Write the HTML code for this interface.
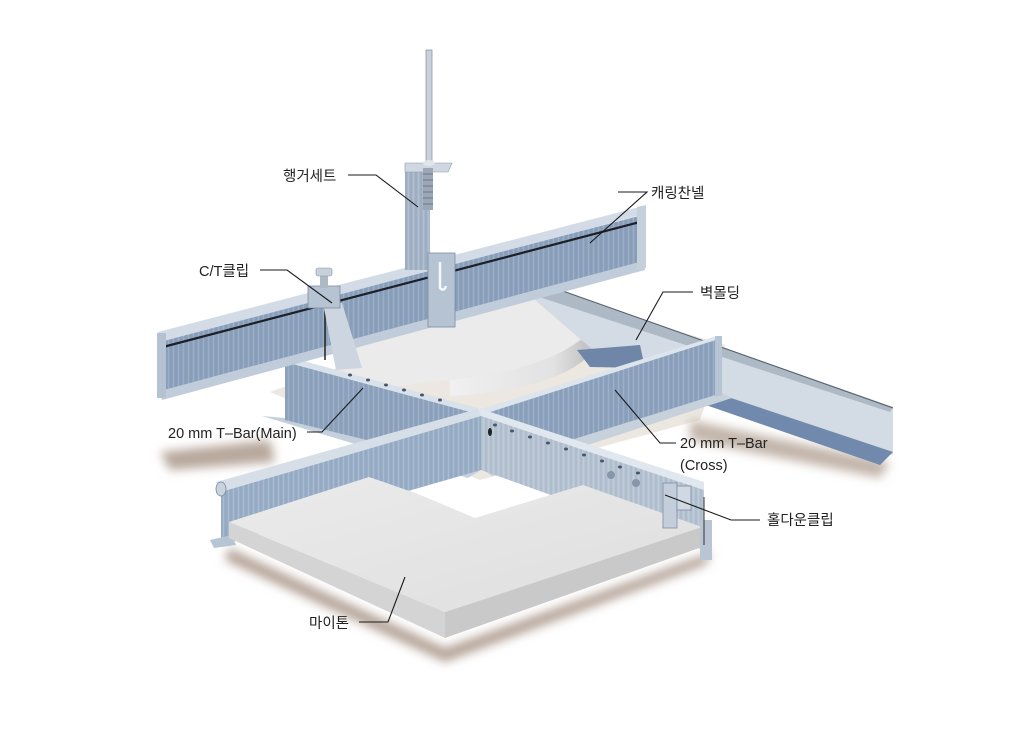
<!DOCTYPE html>
<html><head><meta charset="utf-8">
<style>
html,body{margin:0;padding:0;background:#fff;}
svg{display:block;}
text{font-family:"Liberation Sans","Noto Sans CJK KR",sans-serif;font-size:14.5px;fill:#222;}
</style></head><body>
<svg width="1030" height="731" viewBox="0 0 1030 731" xmlns="http://www.w3.org/2000/svg">
<defs>
<pattern id="st" width="5" height="10" patternUnits="userSpaceOnUse">
<rect width="5" height="10" fill="none"/>
<line x1="1" y1="0" x2="1" y2="10" stroke="#5f7494" stroke-opacity="0.22" stroke-width="1"/>
<line x1="3.5" y1="0" x2="3.5" y2="10" stroke="#e6edf5" stroke-opacity="0.22" stroke-width="0.8"/>
</pattern>
<filter id="bl" x="-20%" y="-50%" width="140%" height="200%"><feGaussianBlur stdDeviation="5"/></filter>
<linearGradient id="pan" x1="0" y1="0" x2="1" y2="1">
<stop offset="0" stop-color="#ebebec"/><stop offset="1" stop-color="#dedede"/></linearGradient>
<linearGradient id="curv" x1="0" y1="0" x2="1" y2="0">
<stop offset="0" stop-color="#f0f0f0"/><stop offset="0.7" stop-color="#e2e2e2"/><stop offset="1" stop-color="#b9b9b9"/></linearGradient>
</defs>

<polygon points="270,392 548,293 725,345 700,420 480,480" fill="#ece7e1"/>
<polygon points="160,452 270,440 275,462 170,470" fill="#b7a79b" filter="url(#bl)"/>
<polygon points="690,420 890,462 880,478 690,440" fill="#c2b5aa" filter="url(#bl)"/>
<polygon points="229,548 445,648 712,552 705,565 445,662 225,560" fill="#b3a296" filter="url(#bl)"/>

<path d="M335,352 L548,293 L598,322 Q565,368 450,380 L360,390 Z" fill="#ebebeb"/>
<path d="M598,322 L598,346 Q565,390 450,396 L450,380 Q565,368 598,322 Z" fill="url(#curv)"/>

<polygon points="528,294 560,290 893,407 893,455 720,398 600,356" fill="#d3dbe4"/>
<polygon points="530,294 560,290 893,407 890,412" fill="#aeb9c6"/>
<polygon points="577,350 640,345 645,368 590,367" fill="#6f86a8"/>
<polygon points="700,403 725,396 893,452 880,465" fill="#7189ad"/>
<line x1="560" y1="290" x2="893" y2="408" stroke="#55606e" stroke-width="1"/>

<polygon points="262,416 285,418 481,470 468,478" fill="#c4d0dc"/>
<polygon points="285,360 481,413 481,468 285,420" fill="#8fa4bf"/>
<polygon points="285,360 481,413 481,468 285,420" fill="url(#st)"/>
<polygon points="285,356 481,409 481,415 285,362" fill="#d9e1ea"/>

<polygon points="481,468 722,393 732,398 492,476" fill="#c6d1dc"/>
<polygon points="481,413 722,338 722,393 481,468" fill="#8ea3be"/>
<polygon points="481,413 722,338 722,393 481,468" fill="url(#st)"/>
<polygon points="481,409 717,336 722,338 481,415" fill="#dde4ec"/>
<polygon points="715,336 722,336 722,395 715,397" fill="#b7c4d3"/>

<polygon points="160,340 643,215 643,267 160,397" fill="#8da2bd"/>
<polygon points="160,340 643,215 643,267 160,397" fill="url(#st)"/>
<polygon points="158,332 643,206 645,214 160,342" fill="#d3dce6"/>
<line x1="163" y1="347" x2="640" y2="222" stroke="#1c1f26" stroke-width="2.2"/>
<polygon points="160,391 643,261 645,270 162,400" fill="#c0ccd9"/>
<polygon points="157,333 166,333 166,398 157,398" fill="#b4c2d2"/>
<polygon points="637,207 646,205 646,268 637,270" fill="#c4d0dc"/>
<line x1="325" y1="300" x2="325" y2="360" stroke="#222" stroke-width="1.5"/>

<rect x="426" y="50" width="6" height="118" fill="#c9d1da" stroke="#8e9aa8" stroke-width="0.8"/>
<rect x="405" y="165" width="25" height="105" fill="#a6b5c8"/>
<rect x="405" y="165" width="25" height="105" fill="url(#st)"/>
<polygon points="405,163 452,163 448,172 405,172" fill="#cfd8e2" stroke="#8e9aa8" stroke-width="0.6"/>
<rect x="423" y="168" width="10" height="42" fill="#9ba7b5"/>
<g stroke="#6c7889" stroke-width="1">
<line x1="423" y1="174" x2="433" y2="174"/><line x1="423" y1="180" x2="433" y2="180"/><line x1="423" y1="186" x2="433" y2="186"/><line x1="423" y1="192" x2="433" y2="192"/><line x1="423" y1="198" x2="433" y2="198"/><line x1="423" y1="204" x2="433" y2="204"/></g>
<ellipse cx="429" cy="163" rx="6" ry="3" fill="#dfe5eb"/>
<rect x="428" y="253" width="27" height="74" fill="#b5c3d3" stroke="#7d8da2" stroke-width="0.8"/>
<path d="M440,262 L440,288 Q444,292 446,286" stroke="#f5f7f9" stroke-width="2.5" fill="none"/>

<polygon points="323,303 342,303 362,368 336,370" fill="#cdd6e0"/>
<rect x="308" y="286" width="32" height="22" fill="#b6c3d2" stroke="#7d8da2" stroke-width="0.8"/>
<rect x="320" y="274" width="8" height="14" fill="#aeb9c6"/>
<rect x="316" y="268" width="16" height="8" rx="2" fill="#c8d1db" stroke="#8995a4" stroke-width="0.6"/>

<polygon points="221,486 481,413 481,470 221,545" fill="#9bb0c8"/>
<polygon points="221,486 481,413 481,470 221,545" fill="url(#st)"/>
<polygon points="216,482 481,408 481,416 221,492" fill="#d6dee8"/>
<ellipse cx="221" cy="489" rx="5" ry="7" fill="#c9d3de" stroke="#7a8ba0" stroke-width="0.8"/>
<polygon points="210,540 232,535 236,545 214,548" fill="#b7c4d2"/>

<polygon points="481,413 704,487 704,550 481,470" fill="#b7c4d3"/>
<polygon points="481,413 704,487 704,550 481,470" fill="url(#st)"/>
<polygon points="478,408 704,482 704,490 481,416" fill="#e1e7ee"/>
<g fill="#4a5565">
<ellipse cx="495" cy="425" rx="2" ry="1.5"/><ellipse cx="512" cy="431" rx="2" ry="1.5"/><ellipse cx="530" cy="437" rx="2" ry="1.5"/><ellipse cx="548" cy="443" rx="2" ry="1.5"/><ellipse cx="566" cy="449" rx="2" ry="1.5"/><ellipse cx="584" cy="455" rx="2" ry="1.5"/><ellipse cx="602" cy="461" rx="2" ry="1.5"/><ellipse cx="620" cy="467" rx="2" ry="1.5"/><ellipse cx="638" cy="473" rx="2" ry="1.5"/>
<ellipse cx="350" cy="375" rx="2" ry="1.5"/><ellipse cx="368" cy="380" rx="2" ry="1.5"/><ellipse cx="386" cy="385" rx="2" ry="1.5"/><ellipse cx="404" cy="390" rx="2" ry="1.5"/><ellipse cx="422" cy="395" rx="2" ry="1.5"/><ellipse cx="440" cy="400" rx="2" ry="1.5"/>
</g>
<ellipse cx="490" cy="432" rx="2" ry="4" fill="#222"/>
<circle cx="611" cy="475" r="4" fill="#8796a8"/><circle cx="636" cy="483" r="4" fill="#8796a8"/>

<polygon points="418,494 460,478 512,497 475,518" fill="#fff"/>

<polygon points="229,522 445,612 445,638 229,538" fill="#d4d4d5"/>
<polygon points="445,612 702,527 702,547 445,638" fill="#c9c9ca"/>
<polygon points="229,522 369,477 418,494 475,518 583,485 702,527 445,612" fill="url(#pan)"/>
<polygon points="700,520 712,520 712,560 700,560" fill="#b9c5d2"/>

<rect x="663" y="483" width="14" height="45" fill="#c3ceda" stroke="#7d8da2" stroke-width="0.8"/>
<rect x="677" y="486" width="14" height="24" fill="#d0d9e3" stroke="#7d8da2" stroke-width="0.8"/>
<line x1="704" y1="497" x2="704" y2="545" stroke="#333" stroke-width="1"/>

<g stroke="#1a1a1a" stroke-width="1.1" fill="none">
<polyline points="348,175 376,175 418,207"/>
<polyline points="618,192 647,192 590,243"/>
<polyline points="260,270 287,270 332,303"/>
<polyline points="693,292 663,292 636,340"/>
<polyline points="307,432 322,432 363,388"/>
<polyline points="676,443 660,443 615,390"/>
<polyline points="760,520 731,520 665,495"/>
<polyline points="359,622 388,622 405,577"/>
</g>

<text x="283" y="181">행거세트</text>
<text x="651" y="198">캐링찬넬</text>
<text x="199" y="276">C/T클립</text>
<text x="700" y="298">벽몰딩</text>
<text x="168" y="438">20 mm T–Bar(Main)</text>
<text x="680" y="448">20 mm T–Bar</text>
<text x="680" y="470">(Cross)</text>
<text x="767" y="525">홀다운클립</text>
<text x="309" y="628">마이톤</text>
</svg>
</body></html>
